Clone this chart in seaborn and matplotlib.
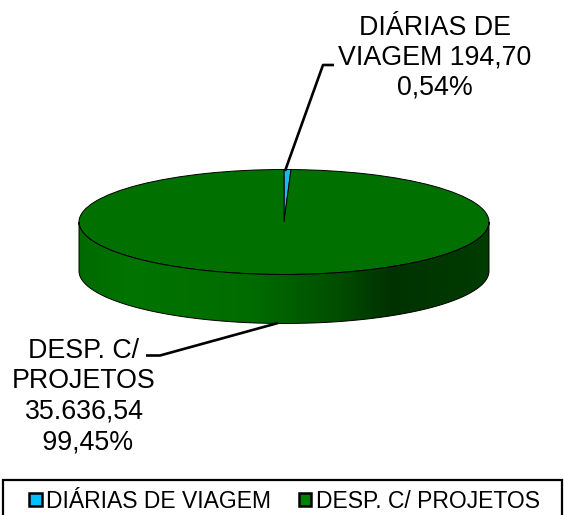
import numpy as np
import matplotlib
matplotlib.use("Agg")
import matplotlib.pyplot as plt
from matplotlib.colors import LinearSegmentedColormap
from matplotlib.patches import PathPatch, Patch, Rectangle
from matplotlib.path import Path
import seaborn as sns

categories = ["DIÁRIAS DE VIAGEM", "DESP. C/ PROJETOS"]
values = [194.70, 35636.54]
data_labels = ["DIÁRIAS DE\nVIAGEM 194,70\n0,54%", "DESP. C/\nPROJETOS\n35.636,54\n 99,45%"]
slice_colors = ["#1FB6EA", "#007000"]
legend_colors = ["#00BFFF", "#008000"]
side_stops = [(0.0, "#006A00"), (0.12, "#007400"), (0.42, "#006C00"), (0.62, "#005000"),
              (0.76, "#003200"), (1.0, "#003C00")]

W, H = 564, 515
CX, CY, RX, RY, DEPTH = 284, 222, 205, 52.5, 49

sns.set_theme(style="white")
plt.rcParams["font.family"] = ["Liberation Sans", "DejaVu Sans"]

fig = plt.figure(figsize=(W / 100, H / 100), dpi=100, facecolor="white")

# pixel-space layer
ax = fig.add_axes([0, 0, 1, 1], zorder=3)
ax.set_xlim(0, W); ax.set_ylim(H, 0); ax.axis("off"); ax.patch.set_alpha(0)

# pie layer: one data unit = RX px horizontally, RY px vertically
pie_ax = fig.add_axes([(CX - RX) / W, 1 - (CY + RY) / H, 2 * RX / W, 2 * RY / H], zorder=2)
pie_ax.pie(values, colors=slice_colors, startangle=90, counterclock=False, radius=1,
           wedgeprops=dict(edgecolor="black", linewidth=0.7))
pie_ax.set_aspect("auto"); pie_ax.set_xlim(-1, 1); pie_ax.set_ylim(-1, 1)
for p in pie_ax.patches:
    p.set_clip_on(False)

# extruded rim, shaded by a horizontal gradient
t = np.linspace(0, np.pi, 200)
ex, ey = CX + RX * np.cos(t), CY + RY * np.sin(t)
verts = np.vstack([np.column_stack([ex, ey + DEPTH]), np.column_stack([ex[::-1], ey[::-1]]), [[ex[0], ey[0] + DEPTH]]])
codes = [Path.MOVETO] + [Path.LINETO] * (len(verts) - 2) + [Path.CLOSEPOLY]
rim = PathPatch(Path(verts, codes), facecolor="none", edgecolor="black", linewidth=0.7, zorder=2)
ax.add_patch(rim)
cmap = LinearSegmentedColormap.from_list("rim", side_stops)
im = ax.imshow(np.linspace(0, 1, 256)[None, :], cmap=cmap, aspect="auto",
               extent=(CX - RX, CX + RX, CY + RY + DEPTH, CY), zorder=1)
im.set_clip_path(rim)
ax.set_xlim(0, W); ax.set_ylim(H, 0)

# leader lines
ax.plot([285, 323, 334], [171, 65, 65], color="black", lw=1.9, solid_capstyle="butt", zorder=4)
ax.plot([278, 160, 146], [323, 355.5, 355.5], color="black", lw=1.9, solid_capstyle="butt", zorder=4)

# data labels
ax.text(435, 58, data_labels[0], ha="center", va="center", fontsize=19.3, color="black", linespacing=1.18)
ax.text(84, 396.5, data_labels[1], ha="center", va="center", fontsize=19.3, color="black", linespacing=1.23)

# legend box (its lower edge falls outside the picture) and legend
ax.add_patch(Rectangle((2.5, 480), 559, 45, facecolor="white", edgecolor="black", linewidth=1.6, zorder=4))
handles = [Patch(facecolor=c, edgecolor="black", linewidth=1.8) for c in legend_colors]
leg = ax.legend(handles, categories, loc="center left", bbox_to_anchor=(29, 501), bbox_transform=ax.transData,
                ncol=2, frameon=False, fontsize=16.5, handlelength=0.55, handleheight=0.52,
                handletextpad=0.2, columnspacing=1.2, borderpad=0, borderaxespad=0,
                labelcolor="black")
leg.set_zorder(5)

fig.savefig("out.png", dpi=100, facecolor="white")
